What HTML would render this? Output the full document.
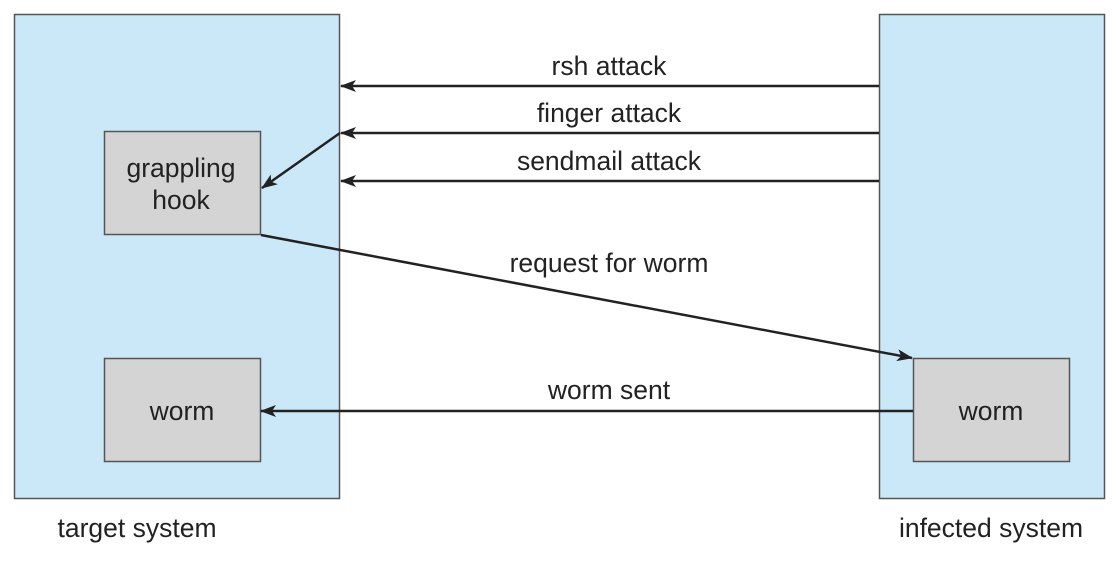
<!DOCTYPE html>
<html><head><style>body{margin:0;background:#fff}</style></head><body>
<svg width="1118" height="559" xmlns="http://www.w3.org/2000/svg" font-family="Liberation Sans, sans-serif" fill="#222">
<defs><marker id="a" markerWidth="16" markerHeight="12" refX="15" refY="6" orient="auto" markerUnits="userSpaceOnUse"><path d="M0,0 L16,6 L0,12 L4,6z" fill="#222"/></marker></defs>
<rect x="14.5" y="14.5" width="325" height="484" fill="#cbe8f8" stroke="#555" stroke-width="1.5"/>
<rect x="879.5" y="14.5" width="225" height="484" fill="#cbe8f8" stroke="#555" stroke-width="1.5"/>
<rect x="104.5" y="131.5" width="156" height="103" fill="#d4d4d5" stroke="#555" stroke-width="1.5"/>
<rect x="104.5" y="358.5" width="156" height="103" fill="#d4d4d5" stroke="#555" stroke-width="1.5"/>
<rect x="913.5" y="358.5" width="156" height="103" fill="#d4d4d5" stroke="#555" stroke-width="1.5"/>
<g stroke="#222" stroke-width="2.5" fill="none">
<line x1="879" y1="86" x2="341" y2="86" marker-end="url(#a)"/>
<line x1="879" y1="133" x2="341" y2="133" marker-end="url(#a)"/>
<line x1="340" y1="133" x2="262" y2="188" marker-end="url(#a)"/>
<line x1="879" y1="181" x2="341" y2="181" marker-end="url(#a)"/>
<line x1="261" y1="235" x2="912" y2="358" marker-end="url(#a)"/>
<line x1="913" y1="411" x2="261" y2="411" marker-end="url(#a)"/>
</g>
<g font-size="26.5" text-anchor="middle">
<text x="609" y="75">rsh attack</text>
<text x="609" y="122">finger attack</text>
<text x="609" y="170">sendmail attack</text>
<text x="609" y="272">request for worm</text>
<text x="609" y="399">worm sent</text>
<text x="181" y="177">grappling</text>
<text x="181" y="209">hook</text>
<text x="182" y="420">worm</text>
<text x="991" y="420">worm</text>
<text x="137" y="537">target system</text>
<text x="991" y="537">infected system</text>
</g>
</svg>
</body></html>
